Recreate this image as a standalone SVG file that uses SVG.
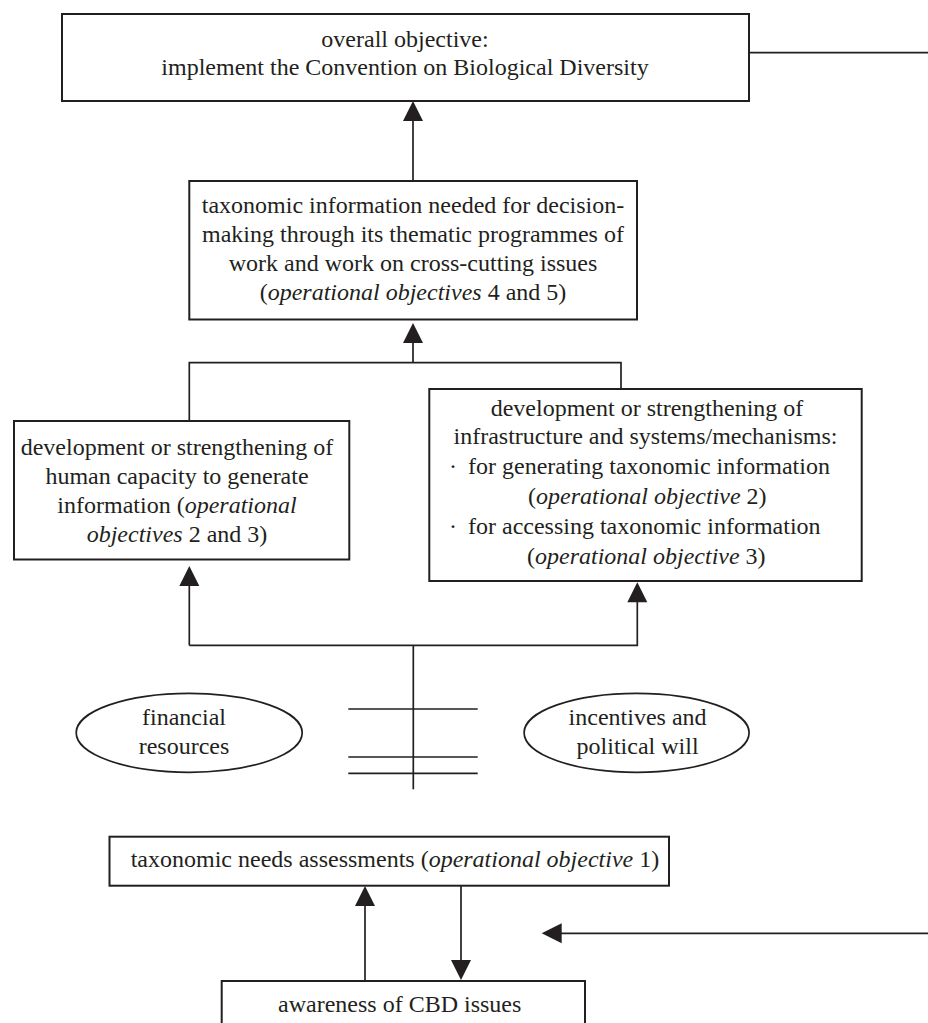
<svg xmlns="http://www.w3.org/2000/svg" width="928" height="1023" viewBox="0 0 928 1023">
<style>
text{font-family:"Liberation Serif","Times New Roman",serif;font-size:24px;fill:#231f20}
.c{text-anchor:middle}
.i{font-style:italic}
.box{fill:#fff;stroke:#231f20;stroke-width:2}
.ell{fill:#fff;stroke:#231f20;stroke-width:1.7}
.ln{fill:none;stroke:#231f20;stroke-width:1.7}
.ah{fill:#231f20}
</style>
<defs>
<path id="ah" d="M0,0 L10,20 L-10,20 Z"/>
</defs>
<rect width="928" height="1023" fill="#fff"/>
<g id="connectors">
<path class="ln" d="M749,52.7 H928"/>
<path class="ln" d="M413,181 V120"/>
<path class="ln" d="M413,362.7 V342"/>
<path class="ln" d="M189.3,421 V362.7 H621 V389"/>
<path class="ln" d="M189.3,645.3 V584"/>
<path class="ln" d="M189.3,645.3 H637.3 V601"/>
<path class="ln" d="M413.3,645.3 V789.3"/>
<path class="ln" d="M348.3,709 H477.7 M348.3,757 H477.7 M348.3,773.3 H477.7"/>
<path class="ln" d="M365,981 V904"/>
<path class="ln" d="M461,886 V962"/>
<path class="ln" d="M928,933.3 H560"/>
<use href="#ah" class="ah" transform="translate(413,101)"/>
<use href="#ah" class="ah" transform="translate(413,323)"/>
<use href="#ah" class="ah" transform="translate(189.3,566)"/>
<use href="#ah" class="ah" transform="translate(637.3,582.3)"/>
<use href="#ah" class="ah" transform="translate(365,886)"/>
<use href="#ah" class="ah" transform="translate(461,980) rotate(180)"/>
<use href="#ah" class="ah" transform="translate(541.7,933.3) rotate(-90)"/>
</g>
<g id="overall">
<rect class="box" x="62" y="14" width="687" height="87"/>
<text class="c" x="405" y="47">overall objective:</text>
<text class="c" x="405" y="75">implement the Convention on Biological Diversity</text>
</g>
<g id="taxinfo">
<rect class="box" x="189.3" y="181" width="447.7" height="138.5"/>
<text class="c" x="413" y="213">taxonomic information needed for decision-</text>
<text class="c" x="413" y="242">making through its thematic programmes of</text>
<text class="c" x="413" y="271">work and work on cross-cutting issues</text>
<text class="c" x="413" y="300">(<tspan class="i">operational objectives</tspan> 4 and 5)</text>
</g>
<g id="human">
<rect class="box" x="14" y="421" width="335.3" height="138.5"/>
<text class="c" x="177" y="455">development or strengthening of</text>
<text class="c" x="177" y="484">human capacity to generate</text>
<text class="c" x="177" y="513">information (<tspan class="i">operational</tspan></text>
<text class="c" x="177" y="542"><tspan class="i">objectives</tspan> 2 and 3)</text>
</g>
<g id="infra">
<rect class="box" x="429.3" y="389" width="432.4" height="192"/>
<text class="c" x="647" y="416">development or strengthening of</text>
<text class="c" x="645.5" y="444">infrastructure and systems/mechanisms:</text>
<text class="c" x="453" y="474">·</text>
<text x="468" y="474">for generating taxonomic information</text>
<text x="528" y="504">(<tspan class="i">operational objective</tspan> 2)</text>
<text class="c" x="453" y="534">·</text>
<text x="468" y="534">for accessing taxonomic information</text>
<text x="527" y="564">(<tspan class="i">operational objective</tspan> 3)</text>
</g>
<g id="financial">
<ellipse class="ell" cx="189.2" cy="732.8" rx="113" ry="39.5"/>
<text class="c" x="184" y="725">financial</text>
<text class="c" x="184" y="753.5">resources</text>
</g>
<g id="incentives">
<ellipse class="ell" cx="636.6" cy="732.8" rx="112.5" ry="39.5"/>
<text class="c" x="637.6" y="725">incentives and</text>
<text class="c" x="637.6" y="753.5">political will</text>
</g>
<g id="needs">
<rect class="box" x="109.5" y="836.7" width="559.5" height="49"/>
<text x="130.7" y="867">taxonomic needs assessments (<tspan class="i">operational objective</tspan> 1)</text>
</g>
<g id="awareness">
<rect class="box" x="221.7" y="981" width="363.3" height="60"/>
<text class="c" x="399.7" y="1012">awareness of CBD issues</text>
</g>
</svg>
